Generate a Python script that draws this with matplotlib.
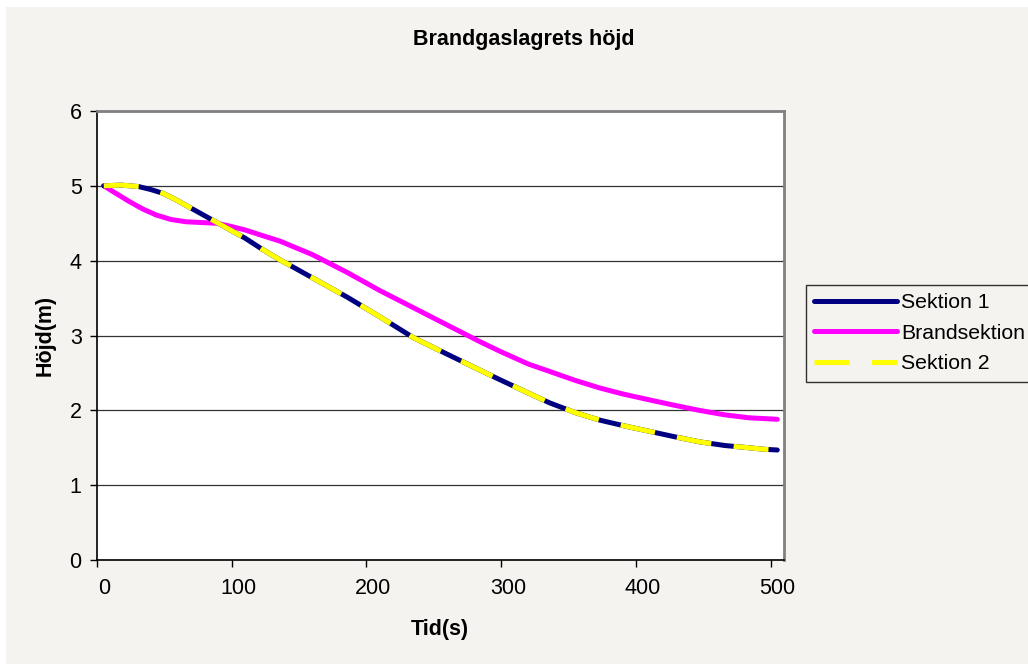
import matplotlib.pyplot as plt
from matplotlib.patches import Rectangle
from matplotlib.transforms import ScaledTranslation

plt.rcParams["font.family"] = ["Liberation Sans", "DejaVu Sans"]

# Brandgaslagrets höjd (m) över tid (s)
tid_sektion = [5, 18, 31, 40, 49, 58, 68, 78, 89, 99, 110, 122, 135, 148, 160, 173, 186,
               210, 235, 260, 284, 299, 318, 336, 355, 373, 392, 410, 428, 447, 466, 484, 495, 505]
hojd_sektion1 = [5.00, 5.01, 4.99, 4.95, 4.90, 4.82, 4.72, 4.62, 4.51, 4.41, 4.30, 4.16, 4.02,
                 3.89, 3.77, 3.64, 3.51, 3.25, 2.97, 2.75, 2.54, 2.41, 2.25, 2.10, 1.97, 1.87,
                 1.79, 1.72, 1.65, 1.58, 1.53, 1.50, 1.48, 1.47]
hojd_sektion2 = [5.00, 5.01, 4.99, 4.95, 4.90, 4.82, 4.72, 4.62, 4.51, 4.41, 4.30, 4.16, 4.02,
                 3.89, 3.77, 3.64, 3.51, 3.25, 2.97, 2.75, 2.54, 2.41, 2.25, 2.10, 1.97, 1.87,
                 1.79, 1.72, 1.65, 1.58, 1.53, 1.50, 1.48, 1.47]

tid_brand = [5, 14, 24, 34, 44, 55, 66, 77, 89, 99, 110, 122, 136, 148, 160, 173, 186,
             210, 235, 260, 284, 299, 320, 336, 355, 373, 390, 410, 428, 447, 466, 484, 495, 505]
hojd_brand = [5.00, 4.90, 4.79, 4.69, 4.61, 4.55, 4.52, 4.51, 4.50, 4.46, 4.41, 4.34, 4.26,
              4.17, 4.08, 3.96, 3.84, 3.60, 3.37, 3.14, 2.92, 2.79, 2.62, 2.52, 2.40, 2.30,
              2.22, 2.14, 2.07, 2.00, 1.94, 1.90, 1.89, 1.88]

x_ticks = [0, 100, 200, 300, 400, 500]
y_ticks = [0, 1, 2, 3, 4, 5, 6]

BG = "#f4f3ef"
W, H = 1028, 664

fig = plt.figure(figsize=(W / 100, H / 100), dpi=100)
fig.patch.set_facecolor("white")
# grå diagramyta med smal vit kant uppe och till vänster
fig.add_artist(Rectangle((6 / W, 0), 1 - 6 / W, 1 - 7 / H, transform=fig.transFigure,
                         facecolor=BG, edgecolor="none", zorder=-10))

ax = fig.add_axes([97 / W, 1 - 560 / H, (784 - 97) / W, (560 - 111) / H])
ax.set_facecolor("white")

LW = 3.6
ax.plot(tid_sektion, hojd_sektion1, color="#000080", lw=LW, label="Sektion 1",
        solid_capstyle="round", zorder=3)
ax.plot(tid_brand, hojd_brand, color="#ff00ff", lw=LW, label="Brandsektion",
        solid_capstyle="round", zorder=2)
ax.plot(tid_sektion, hojd_sektion2, color="#ffff00", lw=LW, label="Sektion 2",
        dashes=(7, 4.5), dash_capstyle="butt", zorder=4)

ax.set_xlim(0, 510)
ax.set_ylim(0, 6)
ax.set_xticks(x_ticks)
ax.set_yticks(y_ticks)
ax.tick_params(axis="both", direction="out", length=5, width=1, color="black",
               labelsize=15.5)
ax.tick_params(axis="x", pad=8)
ax.tick_params(axis="y", pad=6)

# x-etiketterna sitter lite till höger om sina streck
shift = ScaledTranslation(7 / 100, 0, fig.dpi_scale_trans)
for lbl in ax.xaxis.get_majorticklabels():
    lbl.set_transform(lbl.get_transform() + shift)

ax.yaxis.grid(True, color="#333333", lw=0.9)
ax.set_axisbelow(True)

for side in ["left", "bottom"]:
    ax.spines[side].set_color("black")
    ax.spines[side].set_linewidth(1.2)
for side in ["top", "right"]:
    ax.spines[side].set_color("#808080")
    ax.spines[side].set_linewidth(2)

fig.text(524 / W, 1 - 39 / H, "Brandgaslagrets höjd", ha="center", va="center",
         fontsize=15.5, fontweight="bold")
fig.text(440 / W, 1 - 629 / H, "Tid(s)", ha="center", va="center",
         fontsize=15.5, fontweight="bold")
fig.text(45 / W, 1 - 335 / H, "Höjd(m)", ha="center", va="center",
         rotation=90, fontsize=15.5, fontweight="bold")

leg = ax.legend(loc="upper left", bbox_to_anchor=(806 / W, 1 - 285 / H),
                bbox_transform=fig.transFigure, fontsize=15.3, frameon=True,
                fancybox=False, handlelength=3.9, handletextpad=0.2,
                labelspacing=0.55, borderpad=0.38, borderaxespad=0)
leg.get_frame().set_edgecolor("black")
leg.get_frame().set_facecolor(BG)
leg.get_frame().set_linewidth(1)

fig.savefig("out.png", dpi=100, facecolor=fig.get_facecolor())
